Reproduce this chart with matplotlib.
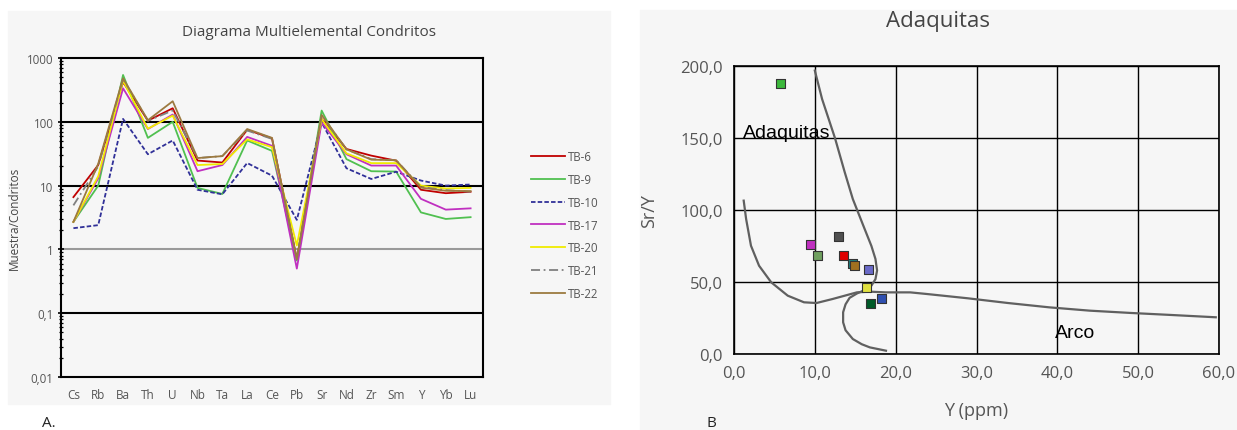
import matplotlib
matplotlib.use("Agg")
import matplotlib.pyplot as plt
from matplotlib.patches import Rectangle
from matplotlib.ticker import FixedLocator, LogLocator, NullFormatter, MultipleLocator

plt.rcParams['font.family'] = ['Open Sans', 'DejaVu Sans']

# ---- panel A data: chondrite-normalised values ----
elements = ["Cs", "Rb", "Ba", "Th", "U", "Nb", "Ta", "La", "Ce", "Pb",
            "Sr", "Nd", "Zr", "Sm", "Y", "Yb", "Lu"]

tb6 = [6.6, 21, 420, 104, 163, 24.7, 23, 75, 55, 0.71, 111, 37.5, 29.5, 24.6, 8.6, 7.6, 8.0]
tb9 = [2.7, 10, 542, 56, 100, 9.2, 7.4, 51, 35, 0.67, 150, 26, 16.8, 16.6, 3.8, 3.0, 3.2]
tb10 = [2.15, 2.4, 111, 31, 51, 8.6, 7.3, 22.6, 14.3, 2.9, 98, 18.7, 12.7, 16.5, 12, 10, 10.4]
tb17 = [2.7, 13, 335, 77, 130, 16.8, 21, 58, 42, 0.5, 98, 31, 20.6, 20.6, 6.2, 4.2, 4.4]
tb20 = [2.7, 14, 440, 78, 125, 21, 21.8, 53, 40, 1.15, 110, 32, 22.5, 22.5, 10, 9, 9.2]
tb21 = [4.9, 20, 470, 104, 150, 27, 29, 73, 54, 0.7, 125, 37, 26, 25, 9.5, 8.5, 8.0]
tb22 = [2.7, 22, 480, 106, 210, 27, 29, 77, 56, 0.7, 128, 37, 25.5, 25, 9.3, 8.3, 8.2]

series_names = ["TB-6", "TB-9", "TB-10", "TB-17", "TB-20", "TB-21", "TB-22"]
series_vals = [tb6, tb9, tb10, tb17, tb20, tb21, tb22]
series_cols = ["#c00000", "#50c050", "#303098", "#c030c0", "#f0ec00", "#808080", "#9c7a40"]
series_ls = ["-", "-", (0, (2.5, 1.2)), "-", "-", (0, (5, 2, 1, 2)), "-"]

# ---- panel B data: Sr/Y vs Y ----
samp_y = [5.7, 9.5, 10.3, 12.9, 13.6, 14.7, 14.9, 16.7, 16.4, 16.9, 18.2]
samp_sry = [188, 75.9, 68.7, 81.9, 68.3, 63, 61.6, 59, 46.5, 35.2, 38.2]
samp_cols = ["#3cb83c", "#c030c0", "#70a060", "#505050", "#e00000", "#208080",
             "#a07020", "#6a6ac8", "#e0e040", "#005a28", "#3050b0"]

# adakite field boundary
adak_x = [10.0, 10.9, 12.5, 13.7, 14.7, 16.0, 17.0, 17.5, 17.7, 17.5, 17.0, 16.2,
          15.2, 14.3, 13.8, 13.5, 13.5, 13.8, 14.7, 15.8, 16.8, 18.8]
adak_y = [196.8, 177, 149.8, 126.2, 107.6, 89.1, 75, 66, 58, 52, 47.5, 44.5,
          42, 39, 34.5, 29, 22, 16.5, 10.4, 6.8, 4.6, 2.3]
# arc field boundary
arc_x = [1.2, 1.5, 2.1, 3.1, 4.6, 6.65, 8.66, 10.2, 12.2, 13.7, 15.2, 16.75, 18.8,
         21.8, 23.8, 28.9, 33.9, 39.0, 44.0, 49.1, 54.1, 59.6]
arc_y = [106.5, 93.75, 75.2, 61.3, 49.8, 40.5, 35.9, 35.4, 38.2, 40.5, 42.8, 43.3,
         42.8, 42.8, 41.7, 38.7, 35.4, 32.4, 30.1, 28.5, 27.1, 25.5]

W, H = 1237, 431
fig = plt.figure(figsize=(W / 100, H / 100), dpi=100)

# light gray panel backgrounds
fig.patches.append(Rectangle((8 / W, 1 - 405 / H), 602 / W, 393 / H,
                             transform=fig.transFigure, color="#f6f6f6", zorder=-5))
fig.patches.append(Rectangle((640 / W, 0), 597 / W, 1 - 11 / H,
                             transform=fig.transFigure, color="#f6f6f6", zorder=-5))

# ================= panel A =================
ax1 = fig.add_axes([61 / W, 1 - 378 / H, 422 / W, 319 / H])
ax1.set_facecolor("#f6f6f6")
xs = list(range(len(elements)))
for name, vals, col, ls in zip(series_names, series_vals, series_cols, series_ls):
    ax1.plot(xs, vals, color=col, ls=ls, lw=1.3, label=name, zorder=3)

ax1.set_yscale("log")
ax1.set_ylim(0.01, 1000)
ax1.set_xlim(-0.5, len(elements) - 0.5)
for v in [0.1, 10, 100]:
    ax1.axhline(v, color="black", lw=1.5, zorder=1)
ax1.axhline(1, color="#9a9a9a", lw=1.5, zorder=1)

ax1.yaxis.set_major_locator(FixedLocator([0.01, 0.1, 1, 10, 100, 1000]))
ax1.set_yticklabels(["0,01", "0,1", "1", "10", "100", "1000"])
ax1.yaxis.set_minor_locator(LogLocator(base=10, subs=range(2, 10)))
ax1.yaxis.set_minor_formatter(NullFormatter())
ax1.tick_params(axis="y", which="major", direction="inout", length=5, width=1.2,
                labelsize=8.3, labelcolor="#555555", pad=3)
ax1.tick_params(axis="y", which="minor", direction="inout", length=3, width=0.9)
ax1.set_xticks(xs)
ax1.set_xticklabels(elements)
ax1.tick_params(axis="x", length=0, labelsize=8.5, labelcolor="#555555", pad=8)
for s in ax1.spines.values():
    s.set_linewidth(1.5)
ax1.set_ylabel("Muestra/Condritos", fontsize=8.5, color="#444444", labelpad=4)
fig.text(309 / W, 1 - 33 / H, "Diagrama Multielemental Condritos", fontsize=11,
         color="#444444", ha="center", va="center")

fig.legend(loc="center left", bbox_to_anchor=(525 / W, 1 - 226 / H), frameon=False,
           fontsize=8.3, handlelength=3.0, handletextpad=0.2, labelspacing=0.85,
           borderpad=0, labelcolor="#555555")

fig.text(42 / W, 1 - 416 / H, "A.", fontsize=11, color="#222222", va="top")

# ================= panel B =================
ax2 = fig.add_axes([734 / W, 1 - 355 / H, 485 / W, 288 / H])
ax2.set_facecolor("#f6f6f6")
ax2.set_xlim(0, 60)
ax2.set_ylim(0, 200)
ax2.xaxis.set_major_locator(MultipleLocator(10))
ax2.yaxis.set_major_locator(MultipleLocator(50))
ax2.grid(True, color="black", lw=1.0, zorder=1)
ax2.set_axisbelow(True)
ax2.xaxis.set_major_formatter(lambda v, p: f"{v:.1f}".replace(".", ","))
ax2.yaxis.set_major_formatter(lambda v, p: f"{v:.1f}".replace(".", ","))
ax2.tick_params(length=0, labelsize=12, labelcolor="#555555", pad=8)
for s in ax2.spines.values():
    s.set_linewidth(1.2)

ax2.plot(adak_x, adak_y, color="#606060", lw=1.6, zorder=2)
ax2.plot(arc_x, arc_y, color="#606060", lw=1.6, zorder=2)
ax2.scatter(samp_y, samp_sry, marker="s", s=42, c=samp_cols, edgecolors="#333333",
            linewidths=0.8, zorder=4)

ax2.text(1.1, 154, "Adaquitas", fontsize=14, color="black", va="center", ha="left",
         family=["Liberation Sans Narrow", "Liberation Sans", "DejaVu Sans"])
ax2.text(39.7, 15, "Arco", fontsize=14, color="black", va="center", ha="left",
         family=["Liberation Sans Narrow", "Liberation Sans", "DejaVu Sans"])

fig.text(938 / W, 1 - 22 / H, "Adaquitas", fontsize=16, color="#444444",
         ha="center", va="center")
ax2.set_xlabel("Y (ppm)", fontsize=13, color="#555555", labelpad=14)
ax2.set_ylabel("Sr/Y", fontsize=13, color="#555555", labelpad=16)

fig.text(706 / W, 1 - 416 / H, "B", fontsize=11, color="#222222", va="top")

fig.savefig("out.png", dpi=100)
